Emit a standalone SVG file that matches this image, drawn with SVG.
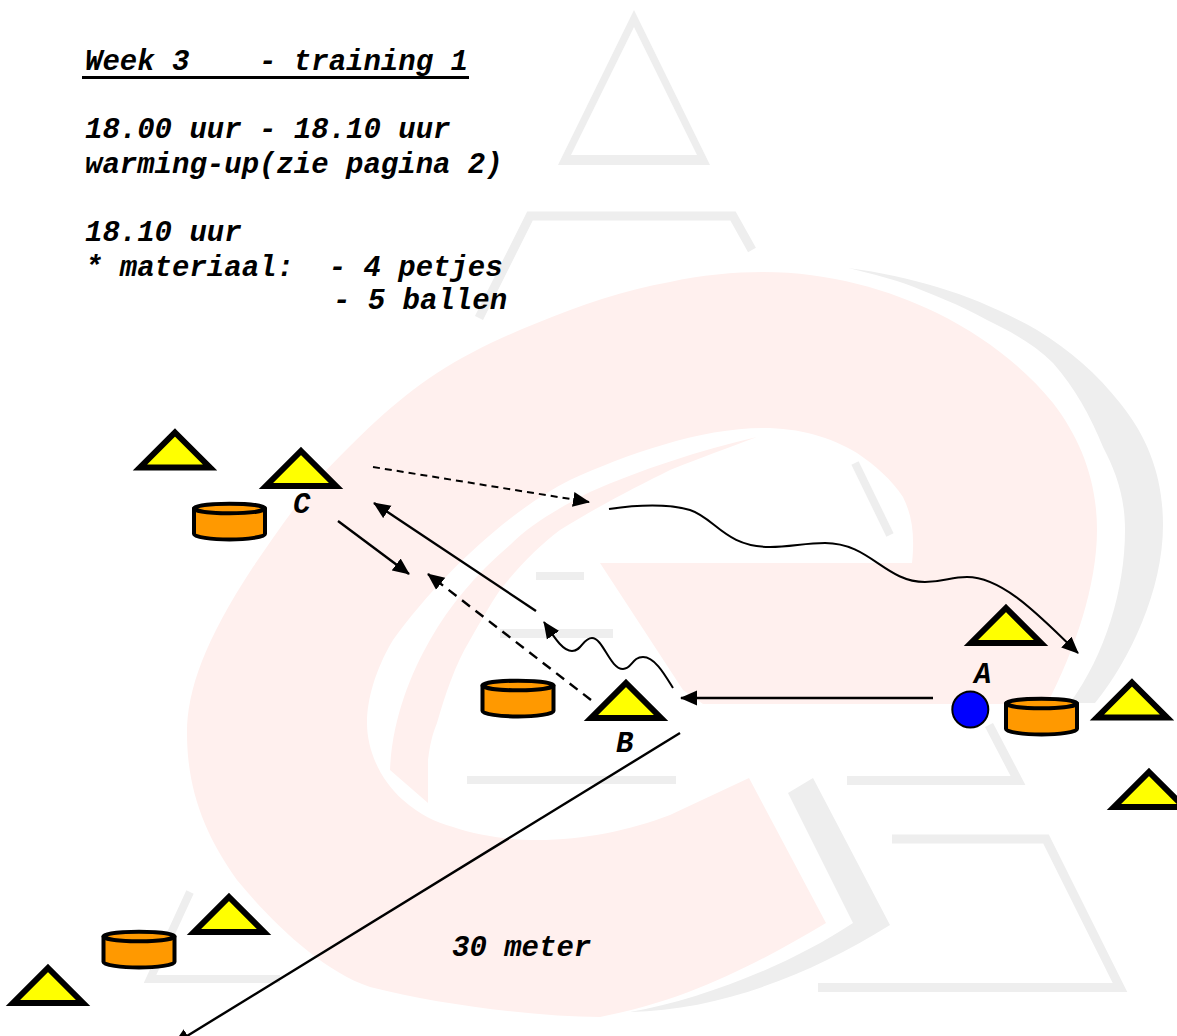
<svg xmlns="http://www.w3.org/2000/svg" width="1177" height="1036" viewBox="0 0 1177 1036">
<style>
.gl{fill:none;stroke:#eeeeee;stroke-width:9;stroke-linejoin:miter}
.gf{fill:#eeeeee;stroke:none;fill-rule:evenodd}
.pk{fill:#fff0ee;stroke:none}
.t{font-family:"Liberation Mono","Courier New",monospace;font-size:29px;font-weight:bold;font-style:italic;fill:#000;white-space:pre}
.tri{fill:#ffff00;stroke:#000;stroke-width:6;stroke-linejoin:miter;stroke-miterlimit:6}
.cb{fill:#ff9900;stroke:#000;stroke-width:4;stroke-linejoin:round}
.c{fill:none;stroke:#000;stroke-width:2.4}
.thin{stroke-width:2}
.big{stroke-dasharray:10 7}
.small{stroke-dasharray:7 5}
.end{marker-end:url(#ah)}
</style>
<defs>
<marker id="ah" markerUnits="userSpaceOnUse" markerWidth="18" markerHeight="16" refX="16" refY="8" orient="auto"><path d="M0,0.5 L17,8 L0,15.5 Z" fill="#000"/></marker>
<g id="tr"><path class="tri" d="M0,0 L35,35 L-35,35 Z"/></g>
<g id="cy"><path class="cb" d="M-35.5,6.5 V32 C-35.5,35 -18,37.5 0,37.5 C18,37.5 35.5,35 35.5,32 V6.5 Z"/><ellipse class="cb" cx="0" cy="6.5" rx="35.5" ry="4.8"/></g>
</defs>
<rect width="1177" height="1036" fill="#ffffff"/>
<g id="watermark">
<path class="pk" d="M763,272 C830,272 890,290 937,313 C985,337 1025,368 1053,403 C1080,438 1097,480 1097,530 C1097,585 1075,650 1047,704 L703,704 L683,690 L600,563 L912,563 C915,535 912,515 903,497 C892,480 875,465 857,453 C830,437 800,428 763,428 C700,428 625,455 570,480 C510,510 440,575 393,640 C375,670 367,700 367,723 C367,750 380,780 403,800 C420,815 435,822 453,827 C480,836 510,840 537,840 C585,840 630,830 670,815 L749,778 L826,923 C760,962 690,1000 600,1017 C540,1017 440,1005 370,987 C320,970 270,920 237,880 C205,835 187,790 187,733 C187,690 205,640 253,567 C275,535 295,505 320,477 C355,440 395,400 437,373 C470,352 500,338 537,323 C580,305 625,290 670,282 C700,275 735,272 763,272 Z"/>
<path class="pk" d="M757,437 C700,450 640,470 590,492 C555,510 530,525 510,545 C475,575 450,605 430,640 C410,675 392,720 390,770 L428,803 L428,760 C430,745 432,735 437,723 C445,695 455,665 470,640 C480,622 490,605 500,590 C520,565 540,545 560,530 C600,505 640,485 670,470 C700,458 730,447 757,437 Z"/>
<path class="gf" d="M634,10 L710,165 L558,165 Z M634,27 L571,155 L697,155 Z"/>
<path class="gl" d="M479,318 L530,216 L733,216 L752,250"/>
<path class="gl" d="M855,463 L890,535" style="stroke-width:8"/>
<path class="gf" d="M536,572 H584 V580 H536 Z M500,629 H613 V638 H500 Z M467,776 H676 V784 H467 Z"/>
<path class="gl" d="M847,780.5 L1018,780.5 L989,725"/>
<path class="gl" d="M892,839 L1046,839 L1120,987.5 L818,987.5"/>
<path class="gl" d="M190,892 L150,979 L280,979" style="stroke-width:8"/>
<path class="gf" d="M848,268 C880,272 910,279 937,287 C975,298 1010,315 1037,330 C1070,350 1098,375 1120,403 C1150,440 1163,480 1163,525 C1163,590 1130,660 1095,703 L1070,703 C1105,655 1125,590 1125,530 C1125,495 1115,470 1103,447 C1090,415 1075,388 1053,363 C1035,345 1012,332 987,320 C960,305 930,293 903,283 C885,277 865,272 848,268 Z"/>
<path class="gf" d="M788,793 L813,778 L890,925 C810,975 720,1010 630,1012 C700,1000 790,965 853,923 Z"/>
</g>
<g id="text">
<text class="t" x="85" y="70">Week 3    - training 1</text>
<rect x="82" y="76" width="387" height="3" fill="#000"/>
<text class="t" x="85" y="138">18.00 uur - 18.10 uur</text>
<text class="t" x="85" y="173">warming-up(zie pagina 2)</text>
<text class="t" x="85" y="241">18.10 uur</text>
<text class="t" x="85" y="276">* materiaal:  - 4 petjes</text>
<text class="t" x="333" y="309">- 5 ballen</text>
<text class="t" x="452" y="956">30 meter</text>
</g>
<g id="connectors">
<path class="c thin small end" d="M373,467 L589,502"/>
<path class="c end" d="M536,611 L374,503"/>
<path class="c end" d="M338,521 L409,574"/>
<path class="c big end" d="M591,700 L428,574"/>
<path class="c end" d="M933,698 L681,698"/>
<path class="c end" d="M680,733 L174,1044"/>
<path class="c thin end" d="M673,688 C665,675 655,657 643,657 C632,657 632,669 623,669 C610,669 603,638 592,638 C583,638 582,651 572,651 C562,651 553,635 544,622"/>
<path class="c thin end" d="M609,509 C630,506 665,503 690,510 C715,518 725,547 770,547 C790,547 805,543 825,543 C870,543 885,582 925,582 C945,582 950,577 967,577 C1005,577 1045,622 1078,653"/>
</g>
<g id="node-t1"><use href="#tr" x="175" y="432.5"/></g>
<g id="node-c"><use href="#tr" x="301" y="451"/><text class="t" x="293" y="513">C</text></g>
<g id="node-cyl-c"><use href="#cy" x="229.5" y="502"/></g>
<g id="node-cyl-b"><use href="#cy" x="518" y="679"/></g>
<g id="node-b"><use href="#tr" x="626" y="683"/><text class="t" x="616" y="752">B</text></g>
<g id="node-t2"><use href="#tr" x="1006" y="608"/></g>
<g id="node-a"><circle cx="970.3" cy="709.5" r="18" fill="#0000ff" stroke="#000" stroke-width="2"/><text class="t" x="974" y="683">A</text></g>
<g id="node-cyl-a"><use href="#cy" x="1041.5" y="697"/></g>
<g id="node-t3"><use href="#tr" x="1132" y="682.5"/></g>
<g id="node-t4"><use href="#tr" x="1149" y="772"/></g>
<g id="node-t5"><use href="#tr" x="229" y="897"/></g>
<g id="node-cyl-d"><use href="#cy" x="139" y="930"/></g>
<g id="node-t6"><use href="#tr" x="48" y="968"/></g>
</svg>
